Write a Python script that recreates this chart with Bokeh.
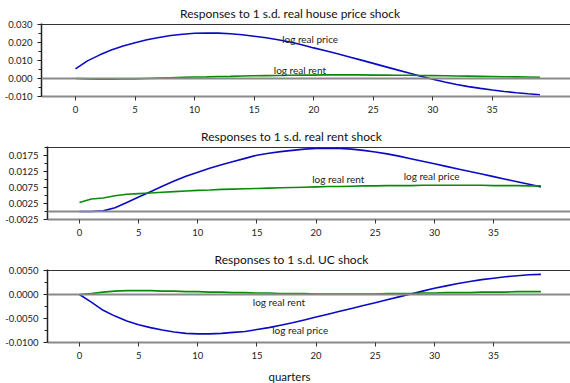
from bokeh.plotting import figure
from bokeh.layouts import column
from bokeh.models import (FixedTicker, PrintfTickFormatter, Span, Label,
                          Range1d)
from bokeh.embed import file_html
from bokeh.resources import INLINE

quarters = list(range(40))

# Responses to a 1 s.d. real house price shock
hp_price = [0.0053, 0.0098, 0.0130, 0.0158, 0.0180, 0.0199, 0.0215, 0.0228, 0.0239, 0.0246,
            0.0251, 0.0253, 0.0252, 0.0249, 0.0243, 0.0235, 0.0226, 0.0215, 0.0203, 0.0187,
            0.0170, 0.0154, 0.0137, 0.0120, 0.0102, 0.0084, 0.0066, 0.0048, 0.0030, 0.0013,
            -0.0004, -0.0019, -0.0033, -0.0045, -0.0055, -0.0064, -0.0072, -0.0079, -0.0085, -0.0090]
hp_rent = [0.0000, -0.0002, -0.0004, -0.0004, -0.0003, -0.0002, 0.0000, 0.0002, 0.0004, 0.0006,
           0.0008, 0.0009, 0.0011, 0.0012, 0.0014, 0.0015, 0.0016, 0.0017, 0.0018, 0.0019,
           0.0019, 0.0020, 0.0020, 0.0020, 0.0020, 0.0019, 0.0019, 0.0018, 0.0018, 0.0017,
           0.0016, 0.0015, 0.0014, 0.0013, 0.0012, 0.0011, 0.0010, 0.0009, 0.0008, 0.0007]

# Responses to a 1 s.d. real rent shock
rr_price = [0.0000, 0.0000, 0.0002, 0.0012, 0.0028, 0.0045, 0.0062, 0.0079, 0.0095, 0.0110,
            0.0123, 0.0135, 0.0146, 0.0156, 0.0166, 0.0176, 0.0182, 0.0187, 0.0191, 0.0195,
            0.0197, 0.0198, 0.0197, 0.0195, 0.0191, 0.0186, 0.0180, 0.0173, 0.0165, 0.0157,
            0.0149, 0.0141, 0.0133, 0.0125, 0.0117, 0.0109, 0.0101, 0.0093, 0.0085, 0.0077]
rr_rent = [0.0028, 0.0039, 0.0042, 0.0049, 0.0054, 0.0056, 0.0058, 0.0060, 0.0062, 0.0064,
           0.0066, 0.0067, 0.0069, 0.0070, 0.0071, 0.0072, 0.0073, 0.0074, 0.0075, 0.0076,
           0.0077, 0.0078, 0.0078, 0.0079, 0.0080, 0.0080, 0.0081, 0.0081, 0.0081, 0.0082,
           0.0082, 0.0082, 0.0082, 0.0082, 0.0082, 0.0081, 0.0081, 0.0081, 0.0080, 0.0080]

# Responses to a 1 s.d. UC shock
uc_price = [0.0000, -0.0016, -0.0033, -0.0045, -0.0055, -0.0063, -0.0069, -0.0074, -0.0078, -0.0081,
            -0.0082, -0.0082, -0.0081, -0.0079, -0.0077, -0.0073, -0.0069, -0.0064, -0.0059, -0.0053,
            -0.0047, -0.0041, -0.0035, -0.0029, -0.0023, -0.0017, -0.0011, -0.0005, 0.0001, 0.0007,
            0.0013, 0.0018, 0.0023, 0.0027, 0.0031, 0.0034, 0.0037, 0.0039, 0.0041, 0.0042]
uc_rent = [0.0000, 0.0002, 0.0005, 0.0007, 0.0008, 0.0008, 0.0008, 0.0007, 0.0007, 0.0006,
           0.0006, 0.0005, 0.0005, 0.0004, 0.0004, 0.0003, 0.0003, 0.0002, 0.0002, 0.0002,
           0.0001, 0.0001, 0.0001, 0.0001, 0.0001, 0.0001, 0.0002, 0.0002, 0.0002, 0.0003,
           0.0003, 0.0004, 0.0004, 0.0004, 0.0005, 0.0005, 0.0005, 0.0006, 0.0006, 0.0006]

titles = ["Responses to 1 s.d. real house price shock",
          "Responses to 1 s.d. real rent shock",
          "Responses to 1 s.d. UC shock"]
x_ticks = [0, 5, 10, 15, 20, 25, 30, 35]
x_title = "quarters"

FONT = "Lato"
BLUE = "#0a0ac4"
GREEN = "#0a8a0a"
GRAY = "#8a8a8a"
W = 570


def panel(title, title_offset, price, rent, y_lo, y_hi, y_major, y_minor,
          fmt, left, x0_px, px_per_q, bottom, labels):
    frame_w = W - left
    x_start = -(x0_px - left) / px_per_q
    x_end = x_start + frame_w / px_per_q
    # one spare pixel above y_hi so the top rule sits fully inside the frame
    y_top = y_hi + (y_hi - y_lo) / 72
    p = figure(width=W, height=23 + 73 + bottom, output_backend="svg",
               toolbar_location=None, frame_align=False,
               x_range=Range1d(x_start, x_end), y_range=Range1d(y_lo, y_top),
               min_border_left=left, min_border_right=0,
               min_border_top=23, min_border_bottom=bottom)
    p.outline_line_color = None
    p.grid.visible = False
    p.background_fill_color = "white"
    p.border_fill_color = "white"

    p.title.text = title
    p.title.align = "left"
    p.title.offset = title_offset
    p.title.standoff = 6
    p.title.text_font = FONT
    p.title.text_font_size = "12px"
    p.title.text_font_style = "normal"
    p.title.text_color = "#111111"

    xa = p.xaxis[0]
    xa.ticker = FixedTicker(ticks=x_ticks, minor_ticks=[])
    xa.axis_line_color = GRAY
    xa.axis_line_width = 2
    xa.major_tick_line_color = "#333333"
    xa.major_tick_in = 0
    xa.major_tick_out = 4
    xa.major_label_standoff = 5
    xa.major_label_text_font = FONT
    xa.major_label_text_font_size = "9.5px"
    xa.major_label_text_color = "#222222"

    ya = p.yaxis[0]
    ya.ticker = FixedTicker(ticks=y_major, minor_ticks=y_minor)
    ya.formatter = PrintfTickFormatter(format=fmt)
    ya.axis_line_color = "#222222"
    ya.axis_line_width = 1.5
    ya.major_tick_line_color = "#222222"
    ya.minor_tick_line_color = "#222222"
    ya.major_tick_in = 0
    ya.major_tick_out = 4
    ya.minor_tick_in = 0
    ya.minor_tick_out = 3
    ya.major_label_standoff = 5
    ya.major_label_text_font = FONT
    ya.major_label_text_font_size = "9.5px"
    ya.major_label_text_color = "#222222"

    # top rule of the frame and the zero line
    p.add_layout(Span(location=y_hi, dimension="width", line_color="#333333",
                      line_width=1.2))
    p.add_layout(Span(location=0, dimension="width", line_color=GRAY,
                      line_width=2))

    p.line(quarters, price, line_color=BLUE, line_width=1.6)
    p.line(quarters, rent, line_color=GREEN, line_width=1.6)

    for text, x, y in labels:
        p.add_layout(Label(x=x, y=y, text=text, text_font=FONT,
                           text_font_size="10px", text_color="#222222",
                           text_align="left", text_baseline="middle"))
    return p


p1 = panel(titles[0], 138.5, hp_price, hp_rent, -0.010, 0.030,
           [-0.010, 0.000, 0.010, 0.020, 0.030],
           [-0.005, 0.005, 0.015, 0.025], "%.3f",
           left=41, x0_px=75, px_per_q=11.91, bottom=27,
           labels=[("log real price", 17.35, 0.0217),
                   ("log real rent", 16.65, 0.0050)])

p2 = panel(titles[1], 153.5, rr_price, rr_rent, -0.0025, 0.0200,
           [-0.0025, 0.0025, 0.0075, 0.0125, 0.0175],
           [0.0, 0.005, 0.010, 0.015, 0.020], "%.4f",
           left=47, x0_px=79, px_per_q=11.83, bottom=27,
           labels=[("log real rent", 19.67, 0.0102),
                   ("log real price", 27.4, 0.0110)])

p3 = panel(titles[2], 167, uc_price, uc_rent, -0.0100, 0.0050,
           [-0.0100, -0.0050, 0.0000, 0.0050],
           [-0.0075, -0.0025, 0.0025], "%.4f",
           left=47, x0_px=79, px_per_q=11.83, bottom=22,
           labels=[("log real rent", 14.65, -0.0015),
                   ("log real price", 16.29, -0.0074)])

# band below the last panel carrying the shared x-axis title
h4 = figure(width=W, height=19, output_backend="svg", toolbar_location=None,
            frame_align=False, x_range=Range1d(0, W), y_range=Range1d(0, 19),
            min_border_left=0, min_border_right=0, min_border_top=0,
            min_border_bottom=0, x_axis_type=None, y_axis_type=None)
h4.outline_line_color = None
h4.grid.visible = False
h4.add_layout(Label(x=289, y=7, text=x_title, text_font=FONT,
                    text_font_size="11.5px", text_color="#111111",
                    text_align="center", text_baseline="middle"))

layout = column(p1, p2, p3, h4, spacing=0)
open("out.html", "w").write(file_html(layout, INLINE))
